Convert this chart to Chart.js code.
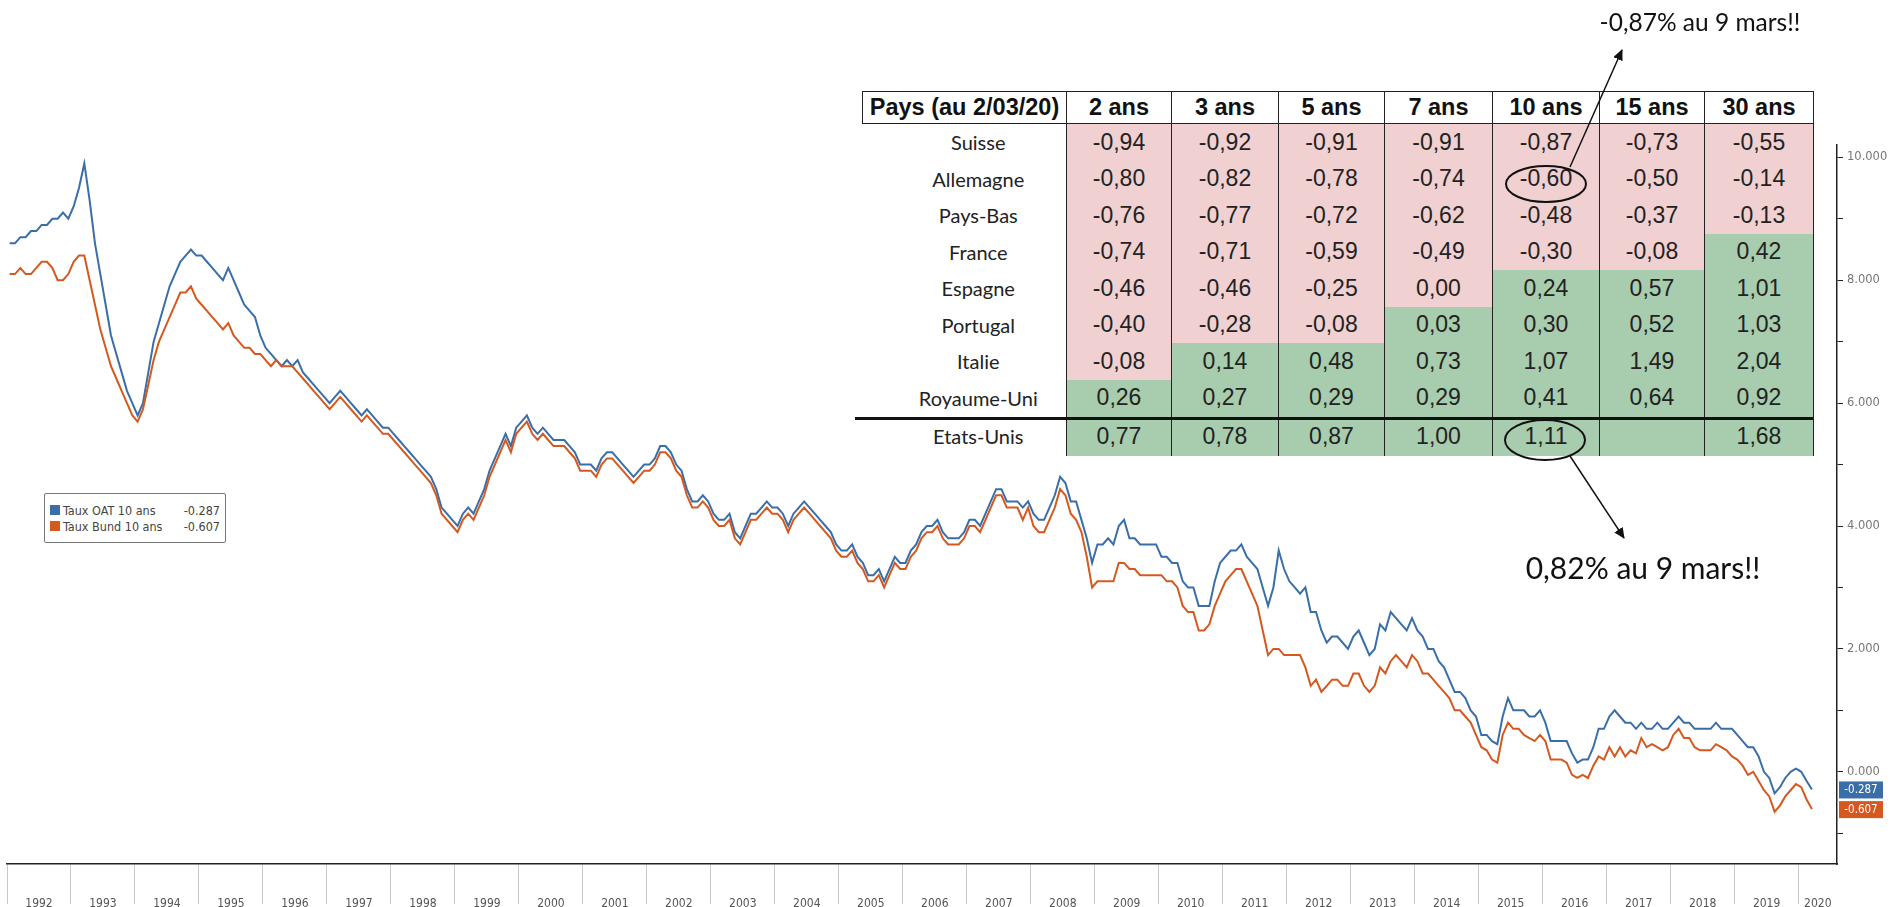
<!DOCTYPE html>
<html>
<head>
<meta charset="utf-8">
<script src="https://cdn.jsdelivr.net/npm/chart.js@4.4.1/dist/chart.umd.min.js"></script>
<style>
html, body { margin: 0; padding: 0; background: #fff; width: 1899px; height: 907px; overflow: hidden; }
#wrap { position: relative; width: 1899px; height: 907px; }
#graph { position: absolute; left: 0; top: 0; }
#legende {
	position: absolute; left: 44px; top: 493px; width: 182px; height: 50px;
	border: 1px solid #777; border-radius: 2px; background: #fff;
	font-family: "DejaVu Sans Condensed", "DejaVu Sans", sans-serif; font-size: 12.5px; color: #444;
	box-sizing: border-box; padding: 8px 5px 0 5px;
}
#legende .ligne { display: flex; align-items: center; height: 16px; }
#legende .carre { width: 10px; height: 10px; margin-right: 3px; }
#legende .val { margin-left: auto; }
#tableau { position: absolute; left: 862px; top: 91px; border-collapse: collapse; table-layout: fixed; background: #fff; }
#tableau th { border: 1.5px solid #222; height: 31px; padding: 0; font-family: "Liberation Sans", Arial, sans-serif; font-weight: bold; font-size: 23.5px; color: #111; text-align: center; }
#tableau td { padding: 0; height: 36.5px; text-align: center; font-family: "Liberation Sans", Arial, sans-serif; font-size: 23px; color: #222; }
#tableau td.pays { font-family: "Lato", "Open Sans", sans-serif; font-size: 20px; color: #222; padding-left: 28px; }
#tableau td.v { border-left: 1.5px solid #222; border-right: 1.5px solid #222; }
#tableau td.neg { background: #f0d0d0; }
#tableau td.pos { background: #a8ccae; }
#tableau tr.us td { height: 40px; }
#sep { position: absolute; left: 855px; top: 417px; width: 958px; height: 2.5px; background: #111; }
#notes { position: absolute; left: 0; top: 0; }
</style>
</head>
<body>
<div id="wrap">
	<canvas id="graph" width="1899" height="907"></canvas>
	<div id="legende"></div>
	<table id="tableau"></table>
	<div id="sep"></div>
	<svg id="notes" width="1899" height="907">
		<defs>
			<marker id="fleche" markerWidth="11" markerHeight="10" refX="10" refY="5" orient="auto" markerUnits="userSpaceOnUse">
				<path d="M0,0 L11,5 L0,10 z" fill="#111"/>
			</marker>
		</defs>
		<ellipse cx="1546" cy="184" rx="40" ry="18" fill="none" stroke="#111" stroke-width="2"/>
		<ellipse cx="1545" cy="440" rx="40" ry="20" fill="none" stroke="#111" stroke-width="2"/>
		<line x1="1570" y1="167" x2="1622" y2="50" stroke="#111" stroke-width="1.5" marker-end="url(#fleche)"/>
		<line x1="1570" y1="456" x2="1624" y2="538" stroke="#111" stroke-width="1.5" marker-end="url(#fleche)"/>
		<text x="1700" y="31" text-anchor="middle" font-family="Lato, 'Open Sans', sans-serif" font-size="24.5" fill="#111">-0,87% au 9 mars!!</text>
		<text x="1643" y="579" text-anchor="middle" font-family="Lato, 'Open Sans', sans-serif" font-size="30" fill="#111">0,82% au 9 mars!!</text>
	</svg>
</div>
<script>
// taux 10 ans mensuels, de janvier 1992 a mars 2020
const debut = 1992
const tauxOAT = [
	8.6, 8.6, 8.7, 8.7, 8.8, 8.8, 8.9, 8.9, 9.0, 9.0, 9.1, 9.0,
	9.2, 9.5, 9.9, 9.3, 8.6, 8.1, 7.6, 7.1, 6.8, 6.5, 6.2, 6.0,
	5.8, 6.0, 6.5, 7.0, 7.3, 7.6, 7.9, 8.1, 8.3, 8.4, 8.5, 8.4,
	8.4, 8.3, 8.2, 8.1, 8.0, 8.2, 8.0, 7.8, 7.6, 7.5, 7.4, 7.1,
	6.9, 6.8, 6.7, 6.6, 6.7, 6.6, 6.7, 6.5, 6.4, 6.3, 6.2, 6.1,
	6.0, 6.1, 6.2, 6.1, 6.0, 5.9, 5.8, 5.9, 5.8, 5.7, 5.6, 5.6,
	5.5, 5.4, 5.3, 5.2, 5.1, 5.0, 4.9, 4.8, 4.6, 4.3, 4.2, 4.1,
	4.0, 4.2, 4.3, 4.2, 4.4, 4.6, 4.9, 5.1, 5.3, 5.5, 5.3, 5.6,
	5.7, 5.8, 5.6, 5.5, 5.6, 5.5, 5.4, 5.4, 5.4, 5.3, 5.2, 5.0,
	5.0, 5.0, 4.9, 5.1, 5.2, 5.2, 5.1, 5.0, 4.9, 4.8, 4.9, 5.0,
	5.0, 5.1, 5.3, 5.3, 5.2, 5.0, 4.9, 4.6, 4.4, 4.4, 4.5, 4.4,
	4.2, 4.1, 4.1, 4.2, 3.9, 3.8, 4.0, 4.2, 4.2, 4.3, 4.4, 4.3,
	4.3, 4.2, 4.0, 4.2, 4.3, 4.4, 4.3, 4.2, 4.1, 4.0, 3.9, 3.7,
	3.6, 3.6, 3.7, 3.5, 3.4, 3.2, 3.2, 3.3, 3.1, 3.3, 3.5, 3.4,
	3.4, 3.6, 3.7, 3.9, 4.0, 4.0, 4.1, 3.9, 3.8, 3.8, 3.8, 3.9,
	4.1, 4.1, 4.0, 4.2, 4.4, 4.6, 4.6, 4.4, 4.4, 4.4, 4.3, 4.4,
	4.2, 4.1, 4.1, 4.3, 4.5, 4.8, 4.7, 4.4, 4.4, 4.1, 3.8, 3.4,
	3.7, 3.7, 3.8, 3.7, 4.0, 4.1, 3.8, 3.8, 3.7, 3.7, 3.7, 3.7,
	3.5, 3.5, 3.4, 3.4, 3.1, 3.0, 3.0, 2.7, 2.7, 2.7, 3.1, 3.4,
	3.5, 3.6, 3.6, 3.7, 3.5, 3.4, 3.3, 3.0, 2.7, 3.0, 3.6, 3.3,
	3.1, 3.0, 2.9, 3.0, 2.6, 2.6, 2.3, 2.1, 2.2, 2.2, 2.1, 2.0,
	2.2, 2.3, 2.1, 1.9, 2.0, 2.4, 2.3, 2.6, 2.5, 2.4, 2.3, 2.5,
	2.3, 2.2, 2.0, 2.0, 1.8, 1.7, 1.5, 1.3, 1.3, 1.2, 1.0, 0.9,
	0.6, 0.6, 0.5, 0.45, 0.9, 1.2, 1.0, 1.0, 1.0, 0.9, 0.9, 1.0,
	0.8, 0.5, 0.5, 0.5, 0.5, 0.3, 0.15, 0.2, 0.2, 0.4, 0.7, 0.7,
	0.9, 1.0, 0.9, 0.8, 0.8, 0.7, 0.8, 0.7, 0.7, 0.8, 0.7, 0.7,
	0.8, 0.9, 0.8, 0.8, 0.7, 0.7, 0.7, 0.7, 0.8, 0.7, 0.7, 0.7,
	0.6, 0.5, 0.4, 0.4, 0.25, 0.0, -0.1, -0.35, -0.25, -0.1, 0.0, 0.05,
	0.0, -0.15, -0.287
]
const tauxBund = [
	8.1, 8.1, 8.2, 8.1, 8.1, 8.2, 8.3, 8.3, 8.2, 8.0, 8.0, 8.1,
	8.3, 8.4, 8.4, 8.0, 7.6, 7.2, 6.9, 6.6, 6.4, 6.2, 6.0, 5.8,
	5.7, 5.9, 6.3, 6.7, 7.0, 7.2, 7.4, 7.6, 7.8, 7.8, 7.9, 7.7,
	7.6, 7.5, 7.4, 7.3, 7.2, 7.3, 7.1, 7.0, 6.9, 6.9, 6.8, 6.8,
	6.7, 6.6, 6.7, 6.6, 6.6, 6.6, 6.5, 6.4, 6.3, 6.2, 6.1, 6.0,
	5.9, 6.0, 6.1, 6.0, 5.9, 5.8, 5.7, 5.8, 5.7, 5.6, 5.5, 5.5,
	5.4, 5.3, 5.2, 5.1, 5.0, 4.9, 4.8, 4.7, 4.5, 4.2, 4.1, 4.0,
	3.9, 4.1, 4.2, 4.1, 4.3, 4.5, 4.8, 5.0, 5.2, 5.4, 5.2, 5.5,
	5.6, 5.7, 5.5, 5.4, 5.5, 5.4, 5.3, 5.3, 5.3, 5.2, 5.1, 4.9,
	4.9, 4.9, 4.8, 5.0, 5.1, 5.1, 5.0, 4.9, 4.8, 4.7, 4.8, 4.9,
	4.9, 5.0, 5.2, 5.2, 5.1, 4.9, 4.8, 4.5, 4.3, 4.3, 4.4, 4.3,
	4.1, 4.0, 4.0, 4.1, 3.8, 3.7, 3.9, 4.1, 4.1, 4.2, 4.3, 4.2,
	4.2, 4.1, 3.9, 4.1, 4.2, 4.3, 4.2, 4.1, 4.0, 3.9, 3.8, 3.6,
	3.5, 3.5, 3.6, 3.4, 3.3, 3.1, 3.1, 3.2, 3.0, 3.2, 3.4, 3.3,
	3.3, 3.5, 3.6, 3.8, 3.9, 3.9, 4.0, 3.8, 3.7, 3.7, 3.7, 3.8,
	4.0, 4.0, 3.9, 4.1, 4.3, 4.5, 4.5, 4.3, 4.3, 4.3, 4.1, 4.3,
	4.0, 3.9, 3.9, 4.1, 4.3, 4.6, 4.5, 4.2, 4.1, 3.9, 3.5, 3.0,
	3.1, 3.1, 3.1, 3.1, 3.4, 3.4, 3.3, 3.3, 3.2, 3.2, 3.2, 3.2,
	3.2, 3.1, 3.1, 3.0, 2.7, 2.6, 2.6, 2.3, 2.3, 2.4, 2.7, 2.9,
	3.1, 3.2, 3.3, 3.3, 3.1, 2.9, 2.7, 2.3, 1.9, 2.0, 2.0, 1.9,
	1.9, 1.9, 1.9, 1.7, 1.4, 1.5, 1.3, 1.4, 1.5, 1.5, 1.4, 1.4,
	1.6, 1.6, 1.4, 1.3, 1.4, 1.7, 1.6, 1.8, 1.9, 1.8, 1.7, 1.9,
	1.8, 1.6, 1.6, 1.5, 1.4, 1.3, 1.2, 1.0, 1.0, 0.9, 0.8, 0.6,
	0.4, 0.35, 0.2, 0.15, 0.6, 0.8, 0.7, 0.7, 0.6, 0.55, 0.5, 0.6,
	0.5, 0.2, 0.2, 0.2, 0.15, -0.05, -0.1, -0.05, -0.1, 0.1, 0.25, 0.2,
	0.4, 0.25, 0.4, 0.25, 0.35, 0.3, 0.55, 0.4, 0.45, 0.4, 0.35, 0.4,
	0.6, 0.7, 0.55, 0.55, 0.4, 0.35, 0.35, 0.35, 0.45, 0.4, 0.35, 0.25,
	0.2, 0.1, -0.05, 0.0, -0.15, -0.3, -0.4, -0.65, -0.55, -0.4, -0.3, -0.2,
	-0.25, -0.45, -0.607
]
const annees = [1992, 1993, 1994, 1995, 1996, 1997, 1998, 1999, 2000, 2001, 2002, 2003, 2004, 2005,
	2006, 2007, 2008, 2009, 2010, 2011, 2012, 2013, 2014, 2015, 2016, 2017, 2018, 2019, 2020]
const graduationsY = [-1, 0, 1, 2, 3, 4, 5, 6, 7, 8, 9, 10]

const series = [
	{nom: "Taux OAT 10 ans", valeurs: tauxOAT, couleur: "#3a6ea8"},
	{nom: "Taux Bund 10 ans", valeurs: tauxBund, couleur: "#d5581f"}
]

// tableau des taux par pays
const maturites = ["2 ans", "3 ans", "5 ans", "7 ans", "10 ans", "15 ans", "30 ans"]
const pays = ["Suisse", "Allemagne", "Pays-Bas", "France", "Espagne", "Portugal", "Italie", "Royaume-Uni", "Etats-Unis"]
const tauxPays = [
	[-0.94, -0.92, -0.91, -0.91, -0.87, -0.73, -0.55],
	[-0.80, -0.82, -0.78, -0.74, -0.60, -0.50, -0.14],
	[-0.76, -0.77, -0.72, -0.62, -0.48, -0.37, -0.13],
	[-0.74, -0.71, -0.59, -0.49, -0.30, -0.08, 0.42],
	[-0.46, -0.46, -0.25, 0.00, 0.24, 0.57, 1.01],
	[-0.40, -0.28, -0.08, 0.03, 0.30, 0.52, 1.03],
	[-0.08, 0.14, 0.48, 0.73, 1.07, 1.49, 2.04],
	[0.26, 0.27, 0.29, 0.29, 0.41, 0.64, 0.92],
	[0.77, 0.78, 0.87, 1.00, 1.11, null, 1.68]
]
const largeurs = [204, 105, 107, 106, 108, 107, 105, 109]

const tab = document.getElementById("tableau")
let html = "<colgroup>" + largeurs.map(l => '<col style="width:' + l + 'px">').join("") + "</colgroup>"
html += "<tr><th>Pays (au 2/03/20)</th>" + maturites.map(m => "<th>" + m + "</th>").join("") + "</tr>"
pays.forEach((p, i) => {
	html += '<tr' + (p == "Etats-Unis" ? ' class="us"' : '') + '><td class="pays">' + p + '</td>'
	tauxPays[i].forEach(v => {
		const cls = (v === null || v > 0) ? "pos" : "neg"
		const txt = v === null ? "" : v.toFixed(2).replace(".", ",")
		html += '<td class="v ' + cls + '">' + txt + '</td>'
	})
	html += "</tr>"
})
tab.innerHTML = html

// legende a gauche
document.getElementById("legende").innerHTML = series.map(s =>
	'<div class="ligne"><span class="carre" style="background:' + s.couleur + '"></span>' + s.nom +
	'<span class="val">' + s.valeurs[s.valeurs.length - 1].toFixed(3) + '</span></div>').join("")

// etiquettes de derniere valeur sur l'axe de droite
const etiquettes = {
	id: "etiquettes",
	afterDatasetsDraw(chart) {
		const ctx = chart.ctx
		const y = chart.scales.y
		const droite = chart.chartArea.right
		ctx.save()
		ctx.font = "11.5px 'DejaVu Sans Condensed', 'DejaVu Sans', sans-serif"
		ctx.textBaseline = "middle"
		ctx.textAlign = "center"
		chart.data.datasets.forEach(ds => {
			const last = ds.data[ds.data.length - 1].y
			const py = y.getPixelForValue(last)
			ctx.fillStyle = ds.borderColor
			ctx.fillRect(droite + 2, py - 8, 44, 17)
			ctx.fillStyle = "#fff"
			ctx.fillText(last.toFixed(3), droite + 24, py + 0.5)
		})
		ctx.restore()
	}
}

const chart = new Chart("graph", {
	type: "line",
	data: {
		datasets: series.map((s, k) => ({
			label: s.nom,
			data: s.valeurs.map((v, i) => ({x: debut + (i + 0.5) / 12, y: v})),
			borderColor: s.couleur,
			borderWidth: 2,
			pointRadius: 0,
			tension: 0,
			order: k == 0 ? 2 : 1
		}))
	},
	options: {
		responsive: false,
		animation: false,
		layout: {padding: {left: 7, top: 145, right: 0, bottom: 0}},
		plugins: {legend: {display: false}, tooltip: {enabled: false}},
		scales: {
			x: {
				type: "linear",
				min: 1992,
				max: 2020.6,
				afterBuildTicks: s => { s.ticks = annees.map(a => ({value: a})) },
				afterFit: s => { s.height = 0 },
				border: {display: true, color: "#222", width: 1.5},
				grid: {drawOnChartArea: false, drawTicks: true, tickLength: 40, color: "#c8c8c8", lineWidth: 1},
				ticks: {display: false}
			},
			x2: {
				type: "linear",
				position: "bottom",
				min: 1992,
				max: 2020.6,
				afterBuildTicks: s => {
					s.ticks = annees.map(a => ({value: a == 2020 ? 2020.3 : a + 0.5}))
				},
				afterFit: s => { s.height = 43 },
				border: {display: false},
				grid: {display: false},
				ticks: {
					autoSkip: false,
					maxRotation: 0,
					padding: 25,
					color: "#555",
					font: {family: "'DejaVu Sans Condensed', 'DejaVu Sans', sans-serif", size: 12},
					callback: v => String(Math.floor(v))
				}
			},
			y: {
				type: "linear",
				position: "right",
				min: -1.5,
				max: 10.2,
				afterBuildTicks: s => { s.ticks = graduationsY.map(v => ({value: v})) },
				afterFit: s => { s.width = 62 },
				border: {display: true, color: "#222", width: 1.5},
				grid: {drawOnChartArea: false, tickLength: 6, color: "#222"},
				ticks: {
					padding: 4,
					color: "#777",
					font: {family: "'DejaVu Sans', sans-serif", size: 11.5},
					callback: v => (v >= 0 && v % 2 == 0) ? v.toFixed(3) : ""
				}
			}
		}
	},
	plugins: [etiquettes]
})
</script>
</body>
</html>
